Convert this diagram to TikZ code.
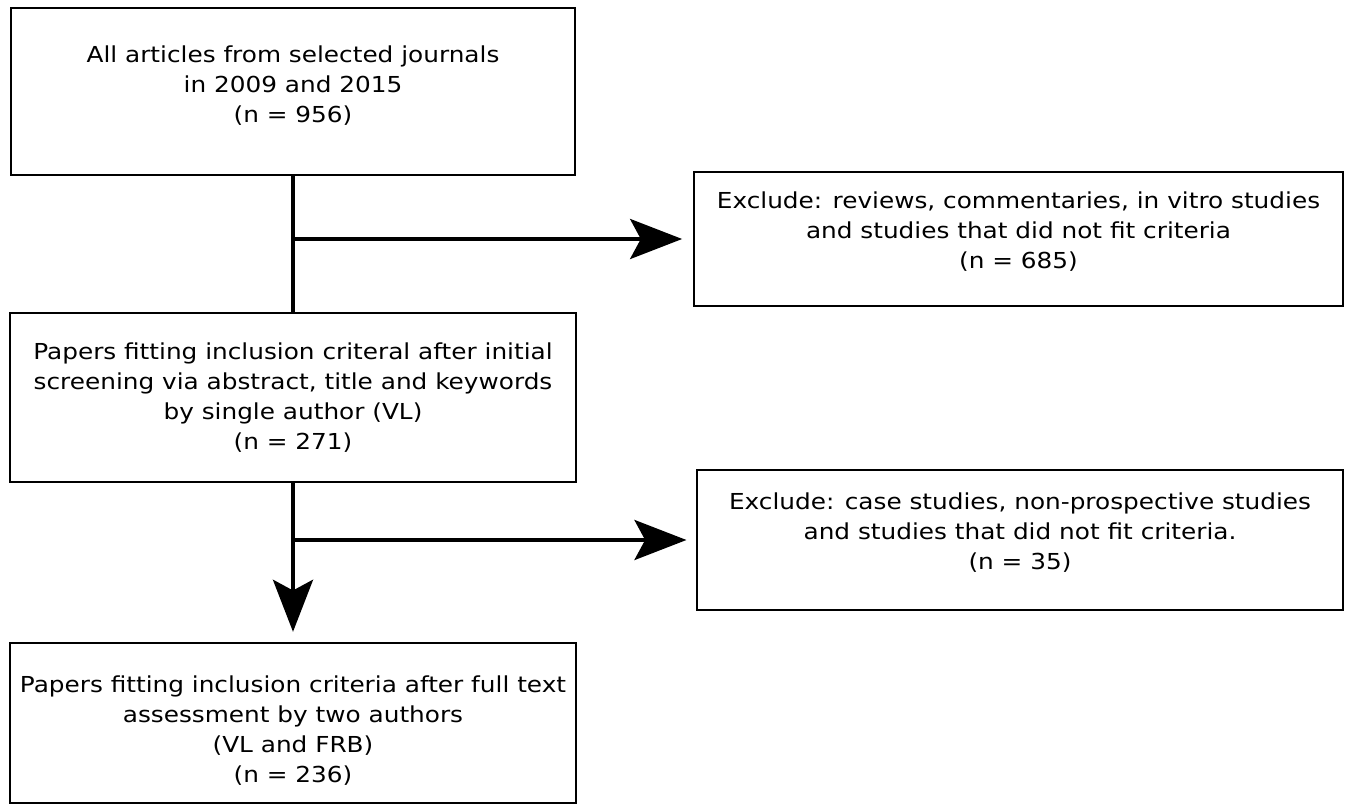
\documentclass[tikz,border=0pt]{standalone}
\usepackage{fontspec}
\setmainfont{DejaVu Sans}[FakeStretch=1.125]
\usepackage{tikz}
\usetikzlibrary{arrows.meta, positioning}

\tikzset{
  flowbox/.style={draw, line width=1.8pt, align=center, inner sep=0pt,
    font=\fontsize{16.5}{22.5}\selectfont},
  flowline/.style={line width=3pt},
  flowarrow/.style={line width=3pt, -{Stealth[length=39pt, width=30pt, inset=8pt]}}
}

\begin{document}
\begin{tikzpicture}[x=0.75pt,y=0.75pt,yscale=-1,xscale=1]
\useasboundingbox (0,0) rectangle (1347,805);

%Boxes
\node[flowbox, minimum width=423pt, minimum height=125.25pt, text depth=10.5pt] (all) at (293,91.5)
  {All articles from selected journals\\in 2009 and 2015\\(n = 956)};
\node[flowbox, minimum width=486.75pt, minimum height=100.5pt, text depth=13pt] (excla) at (1018.5,239)
  {Exclude: reviews, commentaries, in vitro studies\\and studies that did not fit criteria\\(n = 685)};
\node[flowbox, minimum width=424.5pt, minimum height=126.75pt] (screen) at (293,397.5)
  {Papers fitting inclusion criteral after initial\\screening via abstract, title and keywords\\by single author (VL)\\(n = 271)};
\node[flowbox, minimum width=484.5pt, minimum height=105pt, text depth=13pt] (exclb) at (1020,540)
  {Exclude: case studies, non-prospective studies\\and studies that did not fit criteria.\\(n = 35)};
\node[flowbox, minimum width=424.5pt, minimum height=120pt, text height=92pt] (full) at (293,723)
  {Papers fitting inclusion criteria after full text\\assessment by two authors\\(VL and FRB)\\(n = 236)};

%Connectors
\draw[flowline] (all.south) -- (screen.north);
\draw[flowarrow, shorten >=8pt] (all.south |- excla.west) -- (excla.west);
\draw[flowarrow, shorten >=7.5pt] (screen.south) -- (full.north);
\draw[flowarrow, shorten >=7pt] (screen.south |- exclb.west) -- (exclb.west);

\end{tikzpicture}
\end{document}
